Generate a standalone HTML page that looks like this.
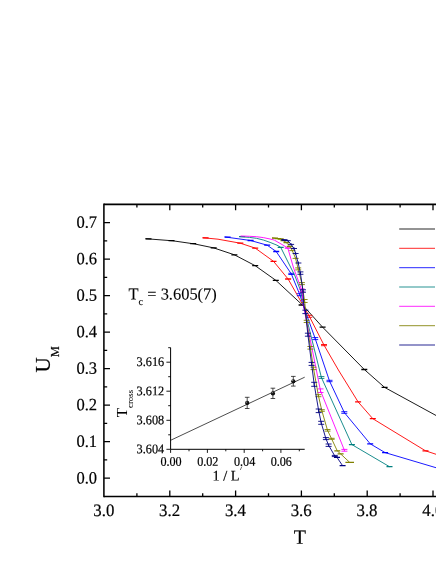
<!DOCTYPE html>
<html><head><meta charset="utf-8"><title>U_M vs T</title>
<style>
html,body{margin:0;padding:0;background:#ffffff;}
body{width:436px;height:564px;overflow:hidden;position:relative;font-family:"Liberation Serif",serif;}
svg{position:absolute;left:0;top:0;display:block;will-change:transform;}
text{font-family:"Liberation Serif",serif;fill:#000;stroke:#000;stroke-width:0.2px;}
</style></head><body>
<svg width="436" height="564" viewBox="0 0 436 564">
<rect x="0" y="0" width="436" height="564" fill="#ffffff"/>

<g stroke="#000000" fill="none" stroke-width="0.9">
<polyline points="145.5,238.7 172.8,240.8 194.3,243.9 213.7,247.9 234.4,254.8 255.2,265.7 275.8,280.3 303.5,306.0 322.6,327.2 364.3,369.5 384.6,387.4 437.0,416.0"/>
<path d="M145.5 238.9H151.5M168.5 240.7H174.5M190.2 243.7H196.2M210.7 247.9H216.7M231.4 254.8H237.4M252.2 265.7H258.2M272.8 280.3H278.8M298.6 305.0H304.6M319.6 327.2H325.6M361.3 369.5H367.3M381.6 387.4H387.6" stroke-width="1.3"/>
</g>
<g stroke="#ff0000" fill="none" stroke-width="0.9">
<polyline points="202.6,237.7 218.0,239.2 240.3,243.2 255.2,248.1 273.5,261.3 288.1,279.0 303.5,306.0 309.3,316.3 324.0,345.1 338.4,370.0 358.1,401.9 372.8,418.7 425.5,450.8 437.0,454.6"/>
<path d="M306.3 315.3H312.3M306.3 317.3H312.3M309.3 315.3V317.3M321.0 344.5H327.0M321.0 345.7H327.0M324.0 344.5V345.7" stroke-width="0.9"/>
<path d="M202.6 237.9H208.6M237.3 243.2H243.3M252.2 248.1H258.2M270.5 261.3H276.5M285.1 279.0H291.1M355.1 401.9H361.1M369.8 418.7H375.8M422.5 450.8H428.5" stroke-width="1.3"/>
</g>
<g stroke="#0000ff" fill="none" stroke-width="0.9">
<polyline points="224.6,236.9 250.6,240.5 267.2,245.2 276.2,251.5 291.3,273.9 299.8,294.7 303.5,306.0 315.2,338.6 329.5,381.0 344.3,412.5 370.2,443.8 385.1,452.6 437.0,468.0"/>
<path d="M288.3 273.3H294.3M288.3 274.5H294.3M291.3 273.3V274.5M296.8 293.7H302.8M296.8 295.7H302.8M299.8 293.7V295.7M312.2 337.6H318.2M312.2 339.6H318.2M315.2 337.6V339.6M326.5 380.3H332.5M326.5 381.7H332.5M329.5 380.3V381.7M341.3 411.7H347.3M341.3 413.3H347.3M344.3 411.7V413.3" stroke-width="0.9"/>
<path d="M224.6 237.2H230.6M247.6 240.5H253.6M264.2 245.2H270.2M273.2 251.5H279.2M367.2 443.8H373.2M382.1 452.6H388.1" stroke-width="1.3"/>
</g>
<g stroke="#008080" fill="none" stroke-width="0.9">
<polyline points="239.2,236.5 249.5,237.4 256.4,238.3 263.3,240.0 270.1,242.4 277.0,245.2 280.7,247.3 295.0,276.0 300.9,291.5 303.5,306.0 321.4,377.5 351.9,444.6 389.5,466.7"/>
<path d="M318.4 376.6H324.4M318.4 378.4H324.4M321.4 376.6V378.4" stroke-width="0.9"/>
<path d="M239.2 236.7H245.2M277.7 247.3H283.7M348.9 444.6H354.9M386.5 466.7H392.5" stroke-width="1.3"/>
</g>
<g stroke="#ff00ff" fill="none" stroke-width="0.9">
<polyline points="240.6,236.0 249.5,236.3 256.4,236.7 263.3,237.6 270.1,239.0 274.3,240.1 282.0,244.5 287.8,248.1 293.6,268.0 301.9,290.5 303.5,306.0 320.5,390.7 344.4,450.3"/>
<path d="M298.9 289.0H304.9M298.9 292.0H304.9M301.9 289.0V292.0M317.5 388.9H323.5M317.5 392.5H323.5M320.5 388.9V392.5M341.4 449.4H347.4M341.4 451.2H347.4M344.4 449.4V451.2" stroke-width="0.9"/>
<path d="M284.8 248.1H290.8" stroke-width="1.3"/>
</g>
<g stroke="#808000" fill="none" stroke-width="0.9">
<polyline points="272.0,237.8 280.7,239.0 286.5,242.7 289.8,246.5 292.3,250.6 295.6,258.4 298.2,268.9 301.9,283.6 304.6,301.0 306.7,321.4 310.4,347.8 313.5,368.4 318.4,395.7 321.8,410.5 327.5,430.3 331.6,438.8 337.3,450.9 340.6,453.9 349.6,462.3"/>
<path d="M289.3 250.6H295.3M292.3 249.8V251.4M292.6 258.4H298.6M295.6 257.6V259.2M295.2 267.9H301.2M295.2 269.9H301.2M298.2 267.9V269.9M298.9 282.6H304.9M298.9 284.6H304.9M301.9 282.6V284.6M301.6 299.5H307.6M301.6 302.5H307.6M304.6 299.5V302.5M303.7 320.3H309.7M303.7 322.5H309.7M306.7 320.3V322.5M307.4 346.5H313.4M307.4 349.1H313.4M310.4 346.5V349.1M310.5 367.2H316.5M310.5 369.6H316.5M313.5 367.2V369.6M315.4 394.7H321.4M315.4 396.7H321.4M318.4 394.7V396.7M318.8 409.7H324.8M318.8 411.3H324.8M321.8 409.7V411.3M324.5 429.5H330.5M324.5 431.1H330.5M327.5 429.5V431.1M328.6 438.3H334.6M328.6 439.3H334.6M331.6 438.3V439.3" stroke-width="0.9"/>
<path d="M272.0 238.2H278.0M275.0 238.6H281.0M277.7 239.0H283.7M280.5 240.6H286.5M283.5 242.7H289.5M286.8 246.5H292.8M334.3 450.9H340.3M337.6 453.9H343.6M346.9 462.3H352.9M345.4 462.3H351.4M348.0 462.3H354.0" stroke-width="1.3"/>
</g>
<g stroke="#000080" fill="none" stroke-width="0.9">
<polyline points="281.6,239.4 287.8,240.7 291.1,244.4 294.0,248.5 295.6,253.5 298.2,263.0 300.4,273.1 303.0,291.0 303.8,306.0 305.4,311.9 307.9,334.7 311.6,363.9 314.2,384.3 318.7,410.8 321.2,422.8 325.9,438.6 328.6,445.2 334.8,456.0 337.0,457.4 342.6,465.7"/>
<path d="M284.8 240.7H290.8M287.8 239.9V241.5M288.1 244.4H294.1M291.1 243.2V245.6M291.0 248.5H297.0M294.0 247.2V249.8M292.6 253.5H298.6M295.6 252.2V254.8M295.4 263.0H301.4M298.4 261.6V264.4M297.4 271.9H303.4M297.4 274.3H303.4M300.4 271.9V274.3M300.0 289.8H306.0M300.0 292.2H306.0M303.0 289.8V292.2M302.4 310.2H308.4M302.4 313.6H308.4M305.4 310.2V313.6M304.9 333.2H310.9M304.9 336.2H310.9M307.9 333.2V336.2M308.6 362.4H314.6M308.6 365.4H314.6M311.6 362.4V365.4M311.2 382.3H317.2M311.2 386.3H317.2M314.2 382.3V386.3M315.7 409.0H321.7M315.7 412.6H321.7M318.7 409.0V412.6M318.2 421.3H324.2M318.2 424.3H324.2M321.2 421.3V424.3M322.9 437.6H328.9M322.9 439.6H328.9M325.9 437.6V439.6M325.6 444.0H331.6M325.6 446.4H331.6M328.6 444.0V446.4M331.8 455.4H337.8M331.8 456.6H337.8M334.8 455.4V456.6" stroke-width="0.9"/>
<path d="M281.5 240.0H287.5M334.0 457.4H340.0M339.6 465.7H345.6" stroke-width="1.3"/>
</g>
<line x1="399.2" x2="435" y1="229.0" y2="229.0" stroke="#000000" stroke-width="0.85"/>
<line x1="399.2" x2="435" y1="248.3" y2="248.3" stroke="#ff0000" stroke-width="0.85"/>
<line x1="399.2" x2="435" y1="267.7" y2="267.7" stroke="#0000ff" stroke-width="0.85"/>
<line x1="399.2" x2="435" y1="287.0" y2="287.0" stroke="#008080" stroke-width="0.85"/>
<line x1="399.2" x2="435" y1="306.3" y2="306.3" stroke="#ff00ff" stroke-width="0.85"/>
<line x1="399.2" x2="435" y1="325.7" y2="325.7" stroke="#808000" stroke-width="0.85"/>
<line x1="399.2" x2="435" y1="345.0" y2="345.0" stroke="#000080" stroke-width="0.85"/>
<g stroke="#000" stroke-width="1.3" fill="none">
<path stroke-width="1.55" d="M103.90 203.60V497.15"/>
<path stroke-width="1.55" d="M104.00 204.35H437"/>
<path stroke-width="1.55" d="M104.00 496.40H437"/>
<path d="M136.9 496.4v-3.2M136.9 204.3v3.2M169.8 496.4v-6.0M169.8 204.3v6.0M202.7 496.4v-3.2M202.7 204.3v3.2M235.6 496.4v-6.0M235.6 204.3v6.0M268.5 496.4v-3.2M268.5 204.3v3.2M301.4 496.4v-6.0M301.4 204.3v6.0M334.3 496.4v-3.2M334.3 204.3v3.2M367.2 496.4v-6.0M367.2 204.3v6.0M400.1 496.4v-3.2M400.1 204.3v3.2M433.0 496.4v-6.0M433.0 204.3v6.0M104.0 478.1h6.0M104.0 459.9h3.2M104.0 441.6h6.0M104.0 423.4h3.2M104.0 405.1h6.0M104.0 386.9h3.2M104.0 368.6h6.0M104.0 350.4h3.2M104.0 332.1h6.0M104.0 313.9h3.2M104.0 295.6h6.0M104.0 277.3h3.2M104.0 259.1h6.0M104.0 240.8h3.2M104.0 222.6h6.0"/>
</g>
<g font-size="17px">
<text transform="translate(97.1,483.40) rotate(0.05) scale(0.955,1)" font-size="17.3px" text-anchor="end">0.0</text>
<text transform="translate(97.1,446.89) rotate(0.05) scale(0.955,1)" font-size="17.3px" text-anchor="end">0.1</text>
<text transform="translate(97.1,410.38) rotate(0.05) scale(0.955,1)" font-size="17.3px" text-anchor="end">0.2</text>
<text transform="translate(97.1,373.87) rotate(0.05) scale(0.955,1)" font-size="17.3px" text-anchor="end">0.3</text>
<text transform="translate(97.1,337.36) rotate(0.05) scale(0.955,1)" font-size="17.3px" text-anchor="end">0.4</text>
<text transform="translate(97.1,300.85) rotate(0.05) scale(0.955,1)" font-size="17.3px" text-anchor="end">0.5</text>
<text transform="translate(97.1,264.34) rotate(0.05) scale(0.955,1)" font-size="17.3px" text-anchor="end">0.6</text>
<text transform="translate(97.1,227.83) rotate(0.05) scale(0.955,1)" font-size="17.3px" text-anchor="end">0.7</text>
<text transform="translate(103.8,516) rotate(0.05) scale(0.96,1)" font-size="17.5px" text-anchor="middle">3.0</text>
<text transform="translate(169.6,516) rotate(0.05) scale(0.96,1)" font-size="17.5px" text-anchor="middle">3.2</text>
<text transform="translate(235.4,516) rotate(0.05) scale(0.96,1)" font-size="17.5px" text-anchor="middle">3.4</text>
<text transform="translate(301.2,516) rotate(0.05) scale(0.96,1)" font-size="17.5px" text-anchor="middle">3.6</text>
<text transform="translate(367.0,516) rotate(0.05) scale(0.96,1)" font-size="17.5px" text-anchor="middle">3.8</text>
<text transform="translate(432.8,516) rotate(0.05) scale(0.96,1)" font-size="17.5px" text-anchor="middle">4.0</text>
</g>
<text transform="translate(299.85,543.8) rotate(0.05) scale(0.985,1)" font-size="20.3px" text-anchor="middle">T</text>
<text transform="translate(50.3,372.4) rotate(-90)" font-size="21px">U<tspan font-size="12.5px" dy="8.5">M</tspan></text>
<text transform="translate(128.5,299.5) rotate(0.05) scale(0.985,1)" font-size="16.7px" style="stroke-width:0.1px">T<tspan font-size="10.5px" dy="5.6">c</tspan><tspan dy="-5.6"> = 3.605(7)</tspan></text>
<g stroke="#000" stroke-width="0.8" fill="none">
<path stroke-width="1" d="M170.6 347.6V449.3H304.7"/>
<path d="M170.6 449.3v3.6M189.0 449.3v2.0M207.4 449.3v3.6M225.8 449.3v2.0M244.2 449.3v3.6M262.6 449.3v2.0M280.9 449.3v3.6M299.3 449.3v2.0M170.6 449.3h-4.2M170.6 434.8h-2.4M170.6 420.3h-4.2M170.6 405.7h-2.4M170.6 391.2h-4.2M170.6 376.7h-2.4M170.6 362.2h-4.2M170.6 347.7h-2.4" stroke-width="0.9"/>
<path stroke-width="0.7" d="M170.6 440.3L304.7 377.2"/>
<path d="M247.2 397.3V408.5M244.9 397.3h4.6M244.9 408.5h4.6M272.9 388.2V398.5M270.6 388.2h4.6M270.6 398.5h4.6M293.3 376.4V386.1M291.0 376.4h4.6M291.0 386.1h4.6" stroke-width="0.75" stroke="#111"/>
</g>
<defs><radialGradient id="ball" cx="0.35" cy="0.32" r="0.7"><stop offset="0" stop-color="#9a9a9a"/><stop offset="0.3" stop-color="#222"/><stop offset="1" stop-color="#000"/></radialGradient></defs>
<circle cx="247.2" cy="402.9" r="2.15" fill="url(#ball)"/>
<circle cx="272.9" cy="393.4" r="2.15" fill="url(#ball)"/>
<circle cx="293.3" cy="381.3" r="2.15" fill="url(#ball)"/>
<g font-size="13.2px" style="stroke-width:0.06px">
<text transform="translate(164.2,453.25) rotate(0.05) scale(0.93,1)" text-anchor="end">3.604</text>
<text transform="translate(164.2,424.21) rotate(0.05) scale(0.93,1)" text-anchor="end">3.608</text>
<text transform="translate(164.2,395.17) rotate(0.05) scale(0.93,1)" text-anchor="end">3.612</text>
<text transform="translate(164.2,366.13) rotate(0.05) scale(0.93,1)" text-anchor="end">3.616</text>
<text transform="translate(171.0,465.7) rotate(0.05) scale(0.92,1)" text-anchor="middle">0.00</text>
<text transform="translate(207.8,465.7) rotate(0.05) scale(0.92,1)" text-anchor="middle">0.02</text>
<text transform="translate(244.6,465.7) rotate(0.05) scale(0.92,1)" text-anchor="middle">0.04</text>
<text transform="translate(281.3,465.7) rotate(0.05) scale(0.92,1)" text-anchor="middle">0.06</text>
</g>
<text transform="translate(212.4,480.6) rotate(0.05) scale(0.985,1)" font-size="14.6px">1 / L</text>
<path d="M241.85 466.5L240.3 470.0" stroke="#000" stroke-width="0.55" fill="none"/>
<text transform="translate(126.8,417.2) rotate(-90)" font-size="15px" style="stroke-width:0.05px">T<tspan font-size="8.8px" dy="6.5">cross</tspan></text>
</svg></body></html>
